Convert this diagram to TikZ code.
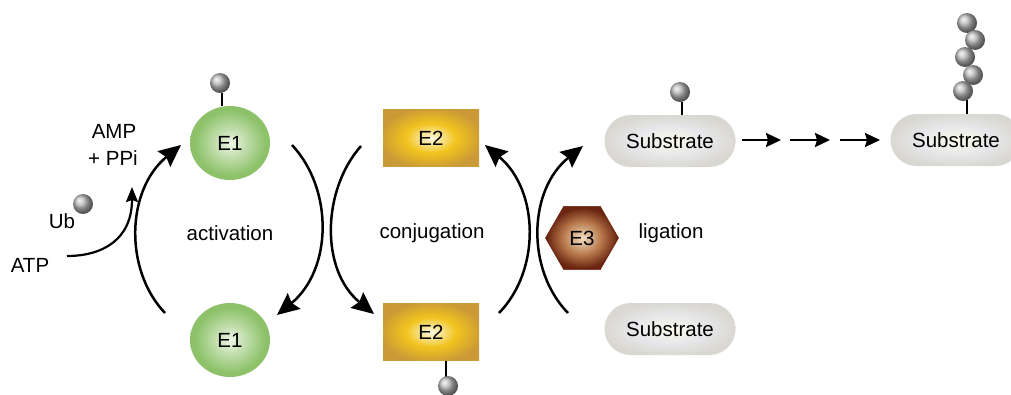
\documentclass[tikz,border=0pt]{standalone}
\usepackage{fontspec}
\setmainfont{Liberation Sans}
\usetikzlibrary{shapes.geometric,arrows.meta}

\definecolor{eoneC}{HTML}{F0F7E8}
\definecolor{eoneE}{HTML}{8DC26A}
\definecolor{etwoC}{HTML}{FEF9E4}
\definecolor{etwoM}{HTML}{F2C41E}
\definecolor{etwoE}{HTML}{C99A36}
\definecolor{ethrC}{HTML}{F3DFC4}
\definecolor{ethrM}{HTML}{B87A4C}
\definecolor{ethrE}{HTML}{6A2410}
\definecolor{subC}{HTML}{FBFAEA}
\definecolor{subM}{HTML}{E6E7EA}
\definecolor{subE}{HTML}{D9D7D1}

\pgfdeclareradialshading{eoneshade}{\pgfpoint{0bp}{0bp}}{color(0bp)=(eoneC); color(9bp)=(eoneC!55!eoneE); color(22bp)=(eoneE); color(50bp)=(eoneE)}
\pgfdeclareradialshading{etwoshade}{\pgfpoint{0bp}{0bp}}{color(0bp)=(etwoC); color(13bp)=(etwoM); color(27bp)=(etwoE); color(50bp)=(etwoE)}
\pgfdeclareradialshading{ethrshade}{\pgfpoint{0bp}{0bp}}{color(0bp)=(ethrC); color(13bp)=(ethrM); color(24bp)=(ethrE); color(50bp)=(ethrE)}
\pgfdeclareradialshading{subshade}{\pgfpoint{0bp}{0bp}}{color(0bp)=(subC); color(14bp)=(subM); color(26bp)=(subE); color(50bp)=(subE)}

\begin{document}
\begin{tikzpicture}[x=1pt,y=-1pt,
  every node/.style={font=\fontsize{20.5}{24}\selectfont, inner sep=0pt},
  eone/.style={ellipse, minimum width=80pt, minimum height=74pt, shading=eoneshade},
  etwo/.style={rectangle, minimum width=96pt, minimum height=57pt, shading=etwoshade},
  ethree/.style={regular polygon, regular polygon sides=6, minimum size=73pt, shading=ethrshade, draw=ethrE, line width=0.6pt},
  subbox/.style={rectangle, rounded corners=26pt, minimum width=131pt, minimum height=52pt, shading=subshade},
  ubq/.style={circle, minimum size=20pt, shading=ball, ball color=gray!55},
  stick/.style={line width=2pt, black},
  cyclearrow/.style={line width=2.5pt, -{Stealth[length=22pt,width=20pt,inset=3pt]}},
  steparrow/.style={line width=2.5pt, -{Stealth[length=15pt,width=14pt,inset=2pt]}},
  atparrow/.style={line width=2.2pt, -{Stealth[length=15pt,width=12pt,inset=2pt]}},
  lbl/.style={}
]
\useasboundingbox (0,0) rectangle (1011,394);

% enzymes and substrates
\node[eone] (E1t) at (230,143) {E1};
\node[eone] (E1b) at (230,340) {E1};
\node[etwo] (E2t) at (431,138) {E2};
\node[etwo] (E2b) at (431,332) {E2};
\node[ethree] (E3) at (582,238) {E3};
\node[subbox] (S1) at (670,141) {Substrate};
\node[subbox] (S2) at (670,329) {Substrate};
\node[subbox] (S3) at (956,140) {Substrate};

% ubiquitin attached to E1, E2 and the substrates
\coordinate (k1) at (222,93);
\draw[stick] (k1) -- (E1t.north -| k1);
\node[ubq] (U1) at (220,83) {};
\coordinate (k2) at (446,377);
\draw[stick] (E2b.south -| k2) -- (k2);
\node[ubq] (U2) at (448,386) {};
\coordinate (k3) at (682,102);
\draw[stick] (k3) -- (S1.north -| k3);
\node[ubq] (U3) at (680,92) {};
\coordinate (k4) at (967,100);
\draw[stick] (k4) -- (S3.north -| k4);
\node[ubq] (C1) at (967,23) {};
\node[ubq] (C2) at (975,40) {};
\node[ubq] (C3) at (965,57) {};
\node[ubq] (C4) at (973,75) {};
\node[ubq] (C5) at (963,91) {};
\node[ubq] (U0) at (83,204) {};

% labels
\node[lbl] (amp) at (114,131) {AMP};
\node[lbl] (ppi) at (113,158) {+ PPi};
\node[lbl] (ub) at (62,221) {Ub};
\node[lbl] (atp) at (30,265) {ATP};
\node[lbl] (act) at (230,233) {activation};
\node[lbl] (conj) at (432,233) {conjugation};
\node[lbl] (lig) at (671,233) {ligation};

% ATP consumption
\coordinate (atpA) at (67,256);
\coordinate (atpB) at (132,187);
\draw[atparrow] (atpA) .. controls (102,256) and (132,240) .. (atpB);

% the three cycles
\coordinate (a1) at (165,313); \coordinate (a2) at (181,145);
\coordinate (a3) at (292,145); \coordinate (a4) at (277,315);
\coordinate (b1) at (361,146); \coordinate (b2) at (374,314);
\coordinate (b3) at (499,313); \coordinate (b4) at (485,145);
\coordinate (c1) at (568,313); \coordinate (c2) at (583,146);
\draw[cyclearrow] (a1) .. controls (124,270) and (126,190) .. (a2);
\draw[cyclearrow] (a3) .. controls (334,190) and (332,270) .. (a4);
\draw[cyclearrow] (b1) .. controls (322,190) and (320,270) .. (b2);
\draw[cyclearrow] (b3) .. controls (541,270) and (539,190) .. (b4);
\draw[cyclearrow] (c1) .. controls (526,270) and (528,190) .. (c2);

% chain elongation steps
\coordinate (p1) at (742,140); \coordinate (q1) at (781,140);
\coordinate (p2) at (790,140); \coordinate (q2) at (830,140);
\coordinate (p3) at (840,140); \coordinate (q3) at (880,140);
\draw[steparrow] (p1) -- (q1);
\draw[steparrow] (p2) -- (q2);
\draw[steparrow] (p3) -- (q3);
\end{tikzpicture}
\end{document}
